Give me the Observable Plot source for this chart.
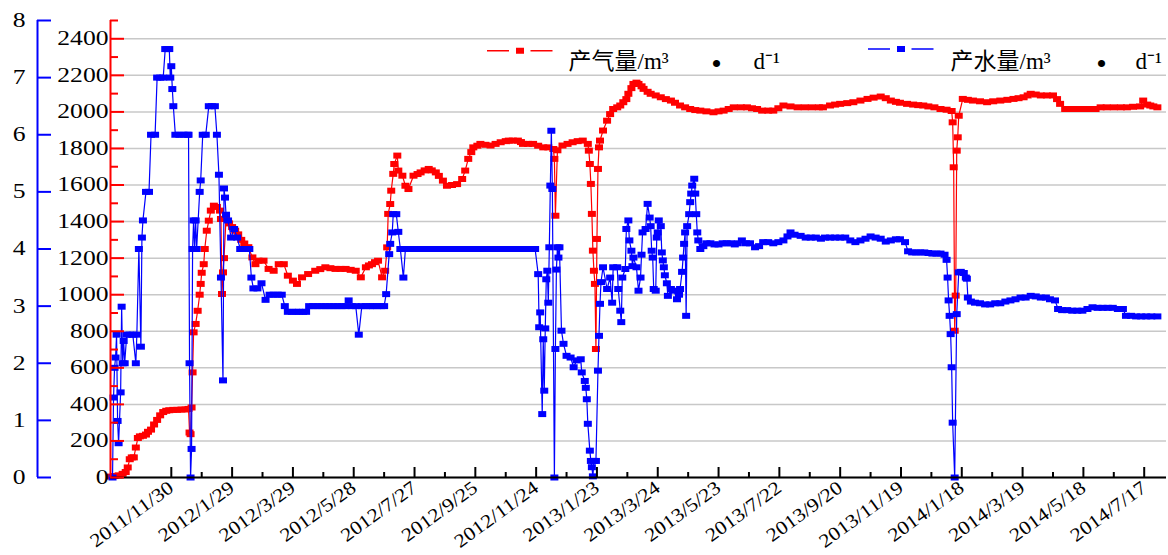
<!DOCTYPE html>
<html><head><meta charset="utf-8">
<script src="https://cdn.jsdelivr.net/npm/d3@7"></script>
<script src="https://cdn.jsdelivr.net/npm/@observablehq/plot@0.6"></script>
<style>body{margin:0;background:#fff;}</style>
</head><body><div id="chart"></div>
<script>
// ---------- data ----------
const DAY0 = Date.UTC(2011, 8, 29);           // day index 0 = 2011-09-29
const xStart = new Date(Date.UTC(2011, 9, 1));
const xEnd = new Date(Date.UTC(2014, 7, 8));

const dateLabels = ["2011/11/30","2012/1/29","2012/3/29","2012/5/28","2012/7/27","2012/9/25","2012/11/24","2013/1/23","2013/3/24","2013/5/23","2013/7/22","2013/9/20","2013/11/19","2014/1/18","2014/3/19","2014/5/18","2014/7/17"];
const gasTicks = [0,200,400,600,800,1000,1200,1400,1600,1800,2000,2200,2400];
const gasMinorTicks = [100,300,500,700,900,1100,1300,1500,1700,1900,2100,2300,2500];
const waterTicks = [0,1,2,3,4,5,6,7,8];

// 产气量 (m3/d) — day index and value
const gasDays = [
 2,6,10,14,17,19,21,23,25,27,
 29,31,34,37,39,42,45,48,51,54,
 57,60,64,68,72,76,79,80,81,82,
 83,84,86,88,90,91,92,94,95,97,
 99,101,104,107,110,111,112,113,114,116,
 119,122,125,128,131,134,138,142,145,148,
 153,158,163,168,173,177,182,186,191,197,
 204,209,214,219,224,229,234,239,244,249,
 254,257,260,263,266,270,273,275,276,278,
 279,281,282,285,286,290,293,296,301,305,
 308,312,316,319,323,326,330,334,339,344,
 349,352,355,358,360,364,367,372,377,382,
 387,392,395,399,404,407,409,414,419,424,
 429,434,439,440,441,443,448,453,458,463,
 468,473,474,475,476,477,478,479,480,481,
 482,483,484,485,488,492,495,498,502,505,
 508,511,513,516,518,521,523,526,528,532,
 535,540,545,550,555,559,564,569,574,579,
 584,590,597,602,607,612,617,624,630,635,
 640,645,651,656,661,666,673,680,687,694,
 701,705,712,717,722,729,735,742,749,755,
 762,767,772,777,781,788,794,799,804,809,
 815,821,827,832,833,834,835,836,837,838,
 839,843,848,853,860,867,873,880,887,893,
 898,903,907,910,915,920,926,932,936,939,
 944,949,954,959,964,969,974,979,985,992,
 999,1005,1011,1018,1021,1025,1028,1031,1035];
const gasValues = [
 5,8,12,20,30,55,100,110,110,164,
 216,225,228,235,250,262,290,315,340,358,
 365,368,370,370,372,372,375,246,237,383,
 575,794,840,912,1000,1059,1120,1167,1250,1350,
 1405,1460,1487,1480,1460,1414,1004,1122,1200,1420,
 1390,1370,1350,1330,1300,1280,1260,1204,1167,1186,
 1186,1141,1131,1167,1167,1104,1077,1059,1095,1113,
 1131,1140,1150,1145,1141,1141,1141,1136,1131,1095,
 1150,1160,1167,1178,1186,1095,1131,1259,1442,1496,
 1569,1661,1715,1761,1679,1651,1596,1578,1651,1660,
 1669,1680,1688,1680,1669,1650,1624,1596,1600,1605,
 1633,1679,1743,1780,1806,1815,1825,1820,1816,1825,
 1834,1840,1843,1843,1843,1835,1825,1825,1825,1815,
 1806,1806,1797,1743,1432,1790,1816,1825,1834,1840,
 1843,1825,1788,1715,1606,1442,1241,1131,1059,703,
 1305,1688,1806,1843,1898,1952,1988,2016,2025,2035,
 2053,2070,2099,2130,2153,2160,2153,2140,2126,2110,
 2099,2090,2080,2070,2062,2050,2035,2025,2016,2010,
 2007,2003,1998,2003,2007,2016,2025,2025,2025,2020,
 2016,2007,2007,2007,2020,2035,2030,2025,2025,2025,
 2025,2025,2035,2040,2044,2048,2053,2062,2071,2078,
 2084,2075,2062,2055,2050,2044,2040,2037,2035,2030,
 2025,2016,2012,2005,1943,1697,803,995,1788,1861,
 1979,2071,2066,2062,2058,2053,2058,2062,2066,2071,
 2075,2080,2090,2099,2095,2090,2090,2090,2070,2044,
 2016,2016,2016,2016,2016,2016,2016,2025,2025,2025,
 2025,2025,2028,2030,2062,2040,2035,2030,2025];

// 产水量 (m3/d) — day index and value
const waterDays = [
 4,5,6,7,8,9,10,12,13,14,
 15,16,18,21,24,27,28,30,32,33,
 34,37,40,42,46,48,51,54,56,58,
 60,61,62,63,64,66,70,74,78,79,
 80,81,82,83,84,85,86,87,90,91,
 93,96,99,102,105,107,109,111,113,114,
 115,116,118,121,124,127,130,133,136,139,
 141,143,147,151,155,159,163,167,171,174,
 177,181,185,188,192,195,198,202,206,210,
 214,218,222,226,230,234,237,240,244,247,
 250,254,258,261,265,269,272,274,277,278,
 280,281,284,286,288,291,293,298,303,308,
 313,318,323,328,333,337,342,347,352,357,
 362,367,372,377,382,387,392,397,402,407,
 411,416,421,424,425,426,428,429,430,431,
 432,433,434,435,436,437,438,440,441,442,
 443,444,445,447,449,452,456,459,462,466,
 467,470,471,472,473,475,476,477,478,479,
 481,483,484,485,486,488,492,495,497,498,
 502,503,505,506,507,510,511,513,514,516,
 517,518,521,523,525,526,527,530,532,534,
 535,536,537,538,540,541,542,543,545,546,
 547,548,549,551,552,555,558,561,563,564,
 566,567,568,569,570,571,573,574,575,576,
 578,579,580,581,582,584,587,590,594,598,
 602,606,610,614,618,621,625,629,633,638,
 642,646,651,656,661,666,670,673,677,683,
 688,693,698,703,707,712,717,722,727,732,
 737,742,747,752,757,762,767,772,777,781,
 786,789,793,797,801,805,809,813,817,821,
 825,827,828,829,830,831,832,833,835,837,
 839,841,844,846,847,848,851,855,860,865,
 870,875,880,885,890,895,900,905,910,915,
 920,925,929,934,937,941,946,951,956,961,
 966,971,976,981,986,991,996,1001,1004,1009,
 1014,1019,1024,1029,1035];
const waterValues = [
 0,1.40,1.92,2.10,2.50,0.99,0.60,1.49,2.99,2.0,
 2.39,2.0,2.5,2.5,2.5,2.0,2.5,4.0,2.29,4.2,
 4.5,5.0,5.0,6.0,6.0,7.0,7.0,7.0,7.5,7.5,
 7.5,7.0,7.2,6.8,6.5,6.0,6.0,6.0,6.0,6.0,
 2.0,0,0.5,4.0,4.5,4.0,4.5,4.0,5.0,5.2,
 6.0,6.0,6.5,6.5,6.5,6.0,5.3,3.5,1.7,5.06,
 4.9,4.6,4.5,4.2,4.35,4.2,4.0,4.0,4.0,4.0,
 3.5,3.31,3.31,3.4,3.11,3.2,3.2,3.2,3.2,3.0,
 2.9,2.9,2.9,2.9,2.9,2.9,3.0,3.0,3.0,3.0,
 3.0,3.0,3.0,3.0,3.0,3.0,3.1,3.0,3.0,2.5,
 3.0,3.0,3.0,3.0,3.0,3.0,3.0,3.21,3.91,4.09,
 4.29,4.61,4.61,4.3,4.0,3.5,4.0,4.0,4.0,4.0,
 4.0,4.0,4.0,4.0,4.0,4.0,4.0,4.0,4.0,4.0,
 4.0,4.0,4.0,4.0,4.0,4.0,4.0,4.0,4.0,4.0,
 4.0,4.0,4.0,3.56,2.63,2.89,1.11,2.42,1.52,2.61,
 3.47,3.62,3.06,4.03,5.11,6.07,5.05,0,2.25,3.64,
 4.03,3.85,4.03,2.57,2.34,2.13,2.1,1.93,2.05,2.07,
 1.84,1.69,1.57,1.37,0.94,0.47,0.29,0.18,0.02,0.29,
 0.29,1.87,2.48,3.04,3.42,3.68,3.3,3.5,3.06,3.68,
 3.68,3.3,2.92,2.72,3.5,3.65,4.35,4.50,4.15,3.97,
 3.7,3.85,3.68,3.27,3.5,3.9,4.29,4.35,4.79,4.55,
 4.40,3.97,3.85,3.30,3.27,4.2,4.29,4.50,4.4,3.94,
 3.80,3.68,3.54,3.4,3.18,3.3,3.27,3.12,3.2,3.3,
 3.6,3.85,4.09,4.29,2.83,4.4,4.61,4.82,4.97,5.11,
 5.23,4.97,4.61,4.29,4.15,4.0,4.05,4.1,4.1,4.08,
 4.08,4.1,4.1,4.1,4.08,4.1,4.15,4.1,4.1,4.03,
 4.05,4.12,4.12,4.1,4.12,4.15,4.22,4.29,4.25,4.23,
 4.2,4.2,4.2,4.18,4.2,4.2,4.2,4.2,4.2,4.15,
 4.12,4.15,4.18,4.22,4.2,4.18,4.13,4.15,4.17,4.17,
 4.12,3.96,3.94,3.94,3.94,3.94,3.93,3.92,3.92,3.92,
 3.9,3.81,3.50,3.10,2.83,2.51,1.93,0.96,0,2.86,
 3.59,3.6,3.58,3.5,3.48,3.15,3.08,3.06,3.05,3.03,
 3.03,3.05,3.05,3.08,3.1,3.12,3.15,3.15,3.18,3.17,
 3.15,3.15,3.12,3.1,2.95,2.93,2.93,2.92,2.92,2.92,
 2.95,2.98,2.97,2.97,2.97,2.97,2.95,2.95,2.83,2.83,
 2.82,2.82,2.82,2.82,2.82];

const gasLegend = ["产气量/m³", "•", "d⁻¹"];
const waterLegend = ["产水量/m³", "•", "d⁻¹"];

// ---------- build ----------
const dayMs = 864e5;
const gas = gasDays.map((d, i) => ({date: new Date(DAY0 + d * dayMs), value: gasValues[i]}));
const water = waterDays.map((d, i) => ({date: new Date(DAY0 + d * dayMs), value: waterValues[i]}));
const WS = 2500 / 8; // water units -> gas-axis units
const parseLabel = s => { const [y, m, d] = s.split("/").map(Number); return new Date(Date.UTC(y, m - 1, d)); };
const majorDates = dateLabels.map(parseLabel);
const minorDates = majorDates.map(d => new Date(+d + 30 * dayMs)).filter(d => d < xEnd);

const W = 1168, H = 555, mL = 110, mR = 2, mT = 20, mB = 78;
const fw = W - mL - mR, fh = H - mT - mB;
const rectSym = {draw(ctx) { ctx.moveTo(-4, -3); ctx.lineTo(4, -3); ctx.lineTo(4, 3); ctx.lineTo(-4, 3); ctx.closePath(); }};
const legendSym = {draw(ctx) {
  ctx.rect(-33, -0.75, 22, 1.5);
  ctx.rect(-4, -3, 8, 6);
  ctx.rect(10.5, -0.75, 22, 1.5);
}};
const fmt = d3.utcFormat("%Y/%-m/%-d");

const svg = Plot.plot({
  width: W, height: H,
  marginLeft: mL, marginRight: mR, marginTop: mT, marginBottom: mB,
  x: {type: "utc", domain: [xStart, xEnd], axis: null},
  y: {domain: [0, 2500], axis: null},
  style: {fontFamily: '"Liberation Serif", "Times New Roman", "Noto Sans CJK SC", serif', fontSize: "20px", color: "black", background: "white"},
  marks: [
    Plot.gridY(gasTicks, {stroke: "#c8c8c8", strokeOpacity: 1, strokeWidth: 1.5}),
    Plot.line(gas, {x: "date", y: "value", stroke: "red", strokeWidth: 1.2}),
    Plot.dot(gas, {x: "date", y: "value", symbol: rectSym, r: 3, fill: "red"}),
    Plot.line(water, {x: "date", y: d => d.value * WS, stroke: "blue", strokeWidth: 1.2}),
    Plot.dot(water, {x: "date", y: d => d.value * WS, symbol: rectSym, r: 3, fill: "blue"}),
    // x axis
    Plot.ruleY([0], {stroke: "black", strokeWidth: 2}),
    Plot.tickX(majorDates, {stroke: "black", strokeWidth: 2, insetTop: fh - 10}),
    Plot.tickX(minorDates, {stroke: "black", strokeWidth: 2, insetTop: fh - 5}),
    Plot.axisX(majorDates, {anchor: "bottom", tickSize: 0, tickPadding: 8, tickRotate: -36, textAnchor: "end", tickFormat: fmt, label: null, fontSize: 19}),
    // gas (red) axis
    Plot.ruleX([xStart], {y1: 0, y2: 2500, stroke: "red", strokeWidth: 2}),
    Plot.tickY(gasTicks, {stroke: "red", strokeWidth: 2, insetRight: fw - 14}),
    Plot.tickY(gasMinorTicks, {stroke: "red", strokeWidth: 2, insetRight: fw - 8}),
    Plot.axisY(gasTicks, {anchor: "left", tickSize: 0, tickPadding: 2, label: null, tickFormat: d => String(d)}),
    // water (blue) axis
    Plot.ruleX([xStart], {y1: 0, y2: 2500, stroke: "blue", strokeWidth: 2, dx: -73}),
    Plot.tickY(waterTicks.map(d => d * WS), {stroke: "blue", strokeWidth: 2, insetRight: fw - 14, dx: -73}),
    Plot.axisY(waterTicks.map(d => d * WS), {anchor: "left", tickSize: 0, tickPadding: 12, dx: -73, label: null, tickFormat: d => String(d / WS)}),
    // legend
    Plot.dot([0], {frameAnchor: "top-left", dx: 409.5, dy: 30.3, symbol: legendSym, r: 3, fill: "red"}),
    Plot.text([gasLegend[0]], {frameAnchor: "top-left", dx: 458, dy: 32, text: d => d, textAnchor: "start", fontSize: 23, ariaLabel: "leg1"}),
    Plot.text([gasLegend[1]], {frameAnchor: "top-left", dx: 606, dy: 32, text: d => d, textAnchor: "middle", fontSize: 30}),
    Plot.text([gasLegend[2]], {frameAnchor: "top-left", dx: 643, dy: 32, text: d => d, textAnchor: "start", fontSize: 23}),
    Plot.dot([0], {frameAnchor: "top-left", dx: 790.5, dy: 28.5, symbol: legendSym, r: 3, fill: "blue"}),
    Plot.text([waterLegend[0]], {frameAnchor: "top-left", dx: 840, dy: 32, text: d => d, textAnchor: "start", fontSize: 23, ariaLabel: "leg1"}),
    Plot.text([waterLegend[1]], {frameAnchor: "top-left", dx: 991, dy: 32, text: d => d, textAnchor: "middle", fontSize: 30}),
    Plot.text([waterLegend[2]], {frameAnchor: "top-left", dx: 1025, dy: 32, text: d => d, textAnchor: "start", fontSize: 23})
  ]
});
document.getElementById("chart").append(svg);

// widen glyphs like the reference (horizontally stretched text)
function stretch(sel, k) {
  svg.querySelectorAll(sel).forEach(t => {
    const len = t.getComputedTextLength();
    if (len > 0) { t.setAttribute("textLength", (len * k).toFixed(1)); t.setAttribute("lengthAdjust", "spacingAndGlyphs"); }
  });
}
stretch('g[aria-label="y-axis tick label"] text', 1.28);
stretch('g[aria-label="x-axis tick label"] text', 1.15);
svg.querySelectorAll('g[aria-label="leg1"] text').forEach(t => { t.setAttribute("textLength", 135); t.setAttribute("lengthAdjust", "spacingAndGlyphs"); });
</script>
</body></html>
